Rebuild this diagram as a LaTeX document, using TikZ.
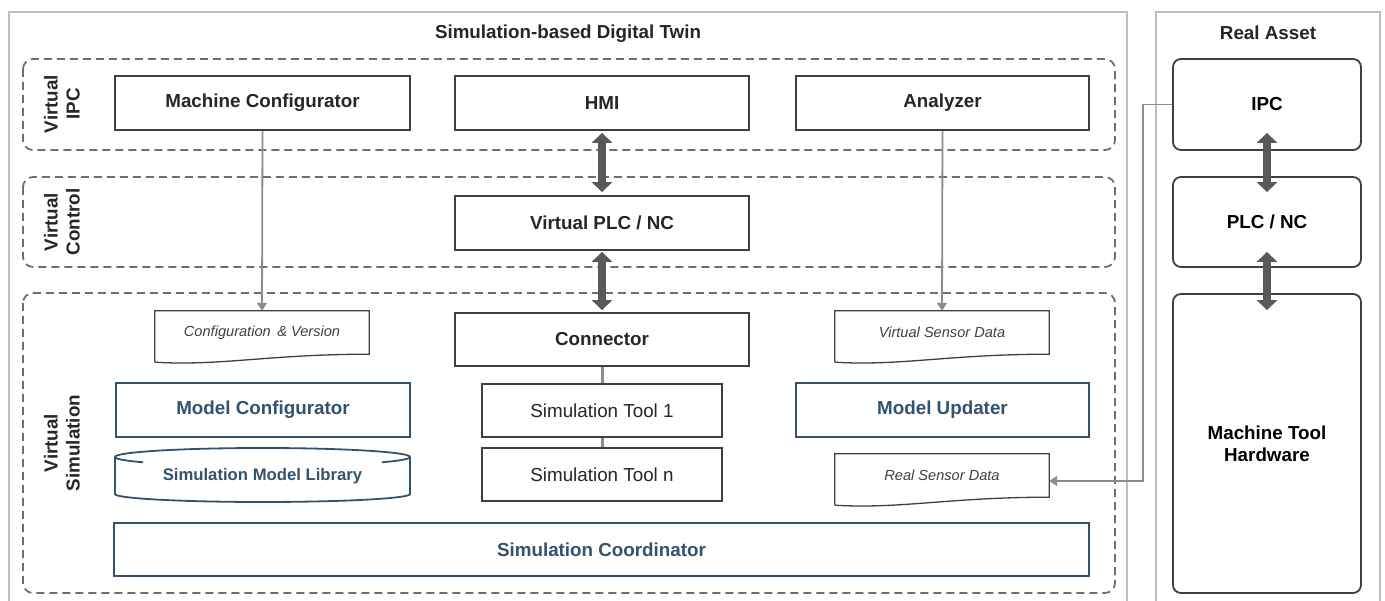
\documentclass[tikz,border=0pt]{standalone}
\usepackage{fontspec}
\setmainfont{Liberation Sans}
\usetikzlibrary{arrows.meta,calc}
\definecolor{dk}{HTML}{3F3F3F}
\definecolor{txt}{HTML}{262626}
\definecolor{dashc}{HTML}{6E6E6E}
\definecolor{outerc}{HTML}{BFBFBF}
\definecolor{bl}{HTML}{34526E}
\definecolor{gl}{HTML}{8C8C8C}
\definecolor{fa}{HTML}{595959}
\definecolor{doct}{HTML}{404040}
\tikzset{
  outerbox/.style={draw=outerc, line width=1.8pt},
  layer/.style={draw=dashc, line width=1.8pt, dash pattern=on 8pt off 5pt, rounded corners=10pt},
  bigfont/.style={font=\fontsize{18.8}{22}\selectfont\bfseries},
  box/.style={draw=dk, line width=1.8pt, fill=white, inner sep=0pt, minimum height=54pt, bigfont, text=txt},
  bluebox/.style={draw=bl, line width=1.8pt, fill=white, inner sep=0pt, minimum height=54pt, bigfont, text=bl},
  toolbox/.style={draw=dk, line width=1.8pt, fill=white, inner sep=0pt, minimum width=240pt, minimum height=53pt, font=\fontsize{18.8}{22}\selectfont, text=txt},
  realbox/.style={draw=dk, line width=1.8pt, fill=white, rounded corners=8pt, inner sep=0pt, minimum width=188pt, bigfont, text=black, align=center},
  docnode/.style={inner sep=0pt, minimum width=214pt, minimum height=43pt, font=\fontsize{14.6}{17}\selectfont\itshape, text=doct},
  docline/.style={draw=dk, line width=1.3pt},
  layerlabel/.style={rotate=90, align=center, bigfont, text=txt},
  garrow/.style={draw=gl, line width=1.8pt, -{Triangle[width=10pt,length=8pt]}},
  gline/.style={draw=gl, line width=3pt},
  fat/.style={draw=fa, line width=8pt, {Triangle[width=20pt,length=10pt]}-{Triangle[width=20pt,length=10pt]}, shorten <=-1pt, shorten >=-1pt},
}
\begin{document}
\begin{tikzpicture}[x=1pt,y=-1pt]
\clip (0,0) rectangle (1385,601);
\fill[white] (0,0) rectangle (1385,601);
% outer frames
\draw[outerbox] (9,620) -- (9,12) -- (1127,12) -- (1127,620);
\draw[outerbox] (1156,620) -- (1156,12) -- (1380,12) -- (1380,620);
\node[bigfont, text=txt] (dttitle) at (568,34) {Simulation-based Digital Twin};
\node[bigfont, text=txt] (ratitle) at (1268,33) {Real Asset};
% layers
\draw[layer] (23,59) rectangle (1115,150);
\draw[layer] (23,177) rectangle (1115,267);
\draw[layer] (23,293) rectangle (1115,593);
\node[layerlabel] (lipc) at (62,104) {Virtual\\IPC};
\node[layerlabel] (lctl) at (62,222) {Virtual\\Control};
\node[layerlabel] (lsim) at (62,443) {Virtual\\Simulation};
% virtual IPC
\node[box, minimum width=295pt] (mc) at (262.5,103) {Machine Configurator};
\node[box, minimum width=294pt] (hmi) at (602,103) {HMI};
\node[box, minimum width=293pt] (an) at (942.5,103) {Analyzer};
% virtual control
\node[box, minimum width=294pt] (vplc) at (602,223) {Virtual PLC / NC};
% virtual simulation
\node[box, minimum width=294pt, minimum height=53pt] (conn) at (602,339.5) {Connector};
\node[toolbox] (st1) at (602,410.5) {Simulation Tool 1};
\node[toolbox] (stn) at (602,474.5) {Simulation Tool n};
\node[bluebox, minimum width=294pt] (mconf) at (263,410) {Model Configurator};
\node[bluebox, minimum width=293pt] (mupd) at (942.5,410) {Model Updater};
\node[bluebox, minimum width=975pt, minimum height=53pt] (scoord) at (601.5,549.5) {Simulation Coordinator};
% cylinder
\fill[white] (115,457) -- plot[domain=180:0, samples=60] ({262.5+147.5*cos(\x)},{457-9*sin(\x)}) -- (410,494) -- plot[domain=0:180, samples=60] ({262.5+147.5*cos(\x)},{494+8*sin(\x)}) -- cycle;
\draw[draw=bl, line width=1.8pt] plot[domain=180:0, samples=60] ({262.5+147.5*cos(\x)},{457-9*sin(\x)});
\draw[draw=bl, line width=1.8pt] plot[domain=144:180, samples=20] ({262.5+147.5*cos(\x)},{457+9*sin(\x)});
\draw[draw=bl, line width=1.8pt] plot[domain=0:36, samples=20] ({262.5+147.5*cos(\x)},{457+9*sin(\x)});
\draw[draw=bl, line width=1.8pt] (115,457) -- (115,494) plot[domain=180:0, samples=60] ({262.5+147.5*cos(\x)},{494+8*sin(\x)}) -- (410,457);
\node[font=\fontsize{16.7}{19}\selectfont\bfseries, text=bl] (lib) at (262.5,476) {Simulation Model Library};
% documents
\node[docnode] (cfg) at (262,332.5) {Configuration \,\& Version};
\node[docnode] (vsd) at (942,332.5) {Virtual Sensor Data};
\node[docnode] (rsd) at (942,475.5) {Real Sensor Data};
\foreach \d in {cfg,vsd,rsd}{
  \draw[docline] ($(\d.south west)+(0,8)$) -- (\d.north west) -- (\d.north east) -- (\d.south east)
    .. controls ($(\d.south west)+(115,0)$) and ($(\d.south west)+(65,12)$) .. ($(\d.south west)+(0,8)$);
}
% real asset
\node[realbox, minimum height=91pt] (ipc) at (1267,104.5) {IPC};
\node[realbox, minimum height=90pt] (plc) at (1267,222) {PLC / NC};
\node[realbox, minimum height=299pt] (mth) at (1267,443.5) {Machine Tool\\Hardware};
% connectors
\draw[garrow] (mc.south) -- (cfg.north);
\draw[garrow] (an.south) -- (vsd.north);
\coordinate (bend) at (1143,104.5);
\coordinate (rsdin) at ($(rsd.east)+(0,5.5)$);
\draw[draw=gl, line width=1.8pt, -{Triangle[width=10pt,length=8pt]}] (ipc.west) -- (bend) |- (rsdin);
\draw[gline] (conn.south) -- (st1.north);
\draw[gline] (st1.south) -- (stn.north);
\draw[fat] ($(hmi.south)+(0,3)$) -- ($(vplc.north)+(0,-4)$);
\draw[fat] ($(vplc.south)+(0,2)$) -- ($(conn.north)+(0,-3)$);
\draw[fat] ($(ipc.south)+(0,-17)$) -- ($(plc.north)+(0,15)$);
\draw[fat] ($(plc.south)+(0,-15)$) -- ($(mth.north)+(0,16)$);
\end{tikzpicture}
\end{document}
